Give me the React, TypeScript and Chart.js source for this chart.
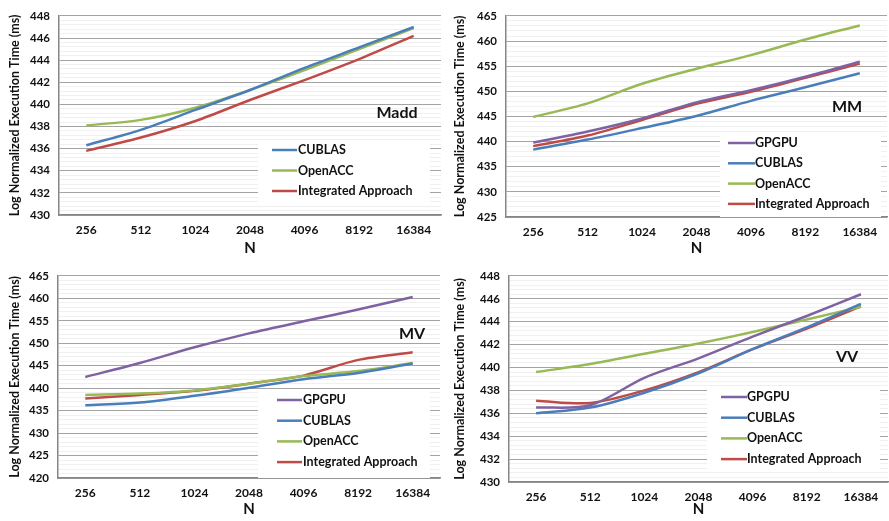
import React, { useEffect, useRef } from "react";
import { Chart, registerables } from "chart.js";
Chart.register(...registerables);

const categories = ["256", "512", "1024", "2048", "4096", "8192", "16384"];

const maddCublas = [436.3, 437.7, 439.5, 441.3, 443.3, 445.15, 447.0];
const maddOpenacc = [438.1, 438.6, 439.7, 441.3, 443.1, 445.0, 446.9];
const maddIntegrated = [435.8, 437.0, 438.5, 440.4, 442.2, 444.1, 446.2];

const mmGpgpu = [439.8, 442.0, 444.6, 447.8, 450.2, 452.9, 455.9];
const mmCublas = [438.4, 440.4, 442.7, 445.1, 448.1, 450.8, 453.6];
const mmOpenacc = [444.9, 447.6, 451.5, 454.5, 457.2, 460.3, 463.1];
const mmIntegrated = [439.1, 441.2, 444.3, 447.5, 449.9, 452.7, 455.5];

const mvGpgpu = [442.5, 445.6, 449.1, 452.2, 454.9, 457.5, 460.3];
const mvCublas = [436.2, 436.8, 438.3, 440.1, 442.0, 443.4, 445.5];
const mvOpenacc = [438.5, 438.8, 439.5, 441.0, 442.7, 443.8, 445.6];
const mvIntegrated = [437.7, 438.5, 439.4, 441.0, 442.8, 446.3, 448.0];

const vvGpgpu = [436.5, 436.7, 439.1, 440.8, 442.7, 444.5, 446.4];
const vvCublas = [436.0, 436.5, 437.8, 439.5, 441.6, 443.5, 445.55];
const vvOpenacc = [439.6, 440.3, 441.2, 442.1, 443.1, 444.2, 445.3];
const vvIntegrated = [437.1, 436.9, 438.0, 439.6, 441.6, 443.4, 445.35];

const COLORS: Record<string, string> = {
  GPGPU: "#7e62a1",
  CUBLAS: "#4a7ebb",
  OpenACC: "#98b954",
  "Integrated Approach": "#be4b48",
};

const FONT = "Lato, 'Open Sans', sans-serif";
const Y_TITLE = "Log Normalized Execution Time (ms)";

type PanelCfg = {
  name: string;
  x: number; y: number; w: number; h: number;
  cl: number; cr: number; ct: number; cb: number;
  min: number; max: number; major: number;
  series: { label: string; data: number[] }[];
  tx: number; ty: number;
  lg: { x: number; y: number; w: number; h: number; l1: number; l2: number; tx: number; r0: number; dr: number };
};

const panels: PanelCfg[] = [
  {
    name: "Madd", x: 0, y: 0, w: 445, h: 260, cl: 59, cr: 441, ct: 9, cb: 215,
    min: 430, max: 448, major: 2,
    series: [
      { label: "CUBLAS", data: maddCublas },
      { label: "OpenACC", data: maddOpenacc },
      { label: "Integrated Approach", data: maddIntegrated },
    ],
    tx: 397, ty: 113,
    lg: { x: 258, y: 141, w: 172, h: 63, l1: 272, l2: 297, tx: 298, r0: 150, dr: 20.5 },
  },
  {
    name: "MM", x: 445, y: 0, w: 444, h: 260, cl: 61, cr: 442, ct: 9, cb: 217,
    min: 425, max: 465, major: 5,
    series: [
      { label: "GPGPU", data: mmGpgpu },
      { label: "CUBLAS", data: mmCublas },
      { label: "OpenACC", data: mmOpenacc },
      { label: "Integrated Approach", data: mmIntegrated },
    ],
    tx: 402, ty: 107,
    lg: { x: 275, y: 132, w: 161, h: 85, l1: 283, l2: 310, tx: 310, r0: 143, dr: 20.3 },
  },
  {
    name: "MV", x: 0, y: 260, w: 445, h: 261, cl: 58, cr: 440, ct: 13, cb: 218,
    min: 420, max: 465, major: 5,
    series: [
      { label: "GPGPU", data: mvGpgpu },
      { label: "CUBLAS", data: mvCublas },
      { label: "OpenACC", data: mvOpenacc },
      { label: "Integrated Approach", data: mvIntegrated },
    ],
    tx: 412, ty: 74,
    lg: { x: 258, y: 130, w: 172, h: 88, l1: 277, l2: 302, tx: 303, r0: 140, dr: 20.7 },
  },
  {
    name: "VV", x: 445, y: 260, w: 444, h: 261, cl: 64, cr: 443, ct: 13, cb: 222,
    min: 430, max: 448, major: 2,
    series: [
      { label: "GPGPU", data: vvGpgpu },
      { label: "CUBLAS", data: vvCublas },
      { label: "OpenACC", data: vvOpenacc },
      { label: "Integrated Approach", data: vvIntegrated },
    ],
    tx: 402, ty: 97,
    lg: { x: 262, y: 127, w: 173, h: 83, l1: 276, l2: 302, tx: 302, r0: 137, dr: 20.7 },
  },
];

function Panel({ p }: { p: PanelCfg }) {
  const ref = useRef<HTMLCanvasElement | null>(null);
  useEffect(() => {
    if (!ref.current) return;
    const isMajor = (v: number) => {
      const r = (v - p.min) / p.major;
      return Math.abs(r - Math.round(r)) < 1e-3;
    };
    const overlay = {
      id: "overlay" + p.name,
      beforeDatasetsDraw(chart: any) {
        const ctx = chart.ctx as CanvasRenderingContext2D;
        ctx.save();
        ctx.fillStyle = "#ffffff";
        ctx.fillRect(p.lg.x, p.lg.y, p.lg.w, p.lg.h);
        ctx.lineWidth = 2.5;
        ctx.font = `bold 12.5px ${FONT}`;
        ctx.textBaseline = "middle";
        ctx.textAlign = "left";
        p.series.forEach((s, i) => {
          const yy = p.lg.r0 + i * p.lg.dr;
          ctx.strokeStyle = COLORS[s.label];
          ctx.beginPath();
          ctx.moveTo(p.lg.l1, yy);
          ctx.lineTo(p.lg.l2, yy);
          ctx.stroke();
          ctx.fillStyle = "#111111";
          ctx.fillText(s.label, p.lg.tx, yy);
        });
        ctx.font = `bold 16px ${FONT}`;
        ctx.textAlign = "center";
        ctx.fillStyle = "#111111";
        ctx.fillText(p.name, p.tx, p.ty);
        ctx.restore();
      },
    };
    const chart = new Chart(ref.current, {
      type: "line",
      data: {
        labels: categories,
        datasets: p.series.map((s) => ({
          label: s.label,
          data: s.data,
          borderColor: COLORS[s.label],
          backgroundColor: COLORS[s.label],
          borderWidth: 2.5,
          pointRadius: 0,
          tension: 0.3,
          fill: false,
        })),
      },
      options: {
        animation: false,
        responsive: false,
        events: [],
        layout: { padding: { left: 0, right: p.w - p.cr, top: p.ct, bottom: 0 } },
        plugins: { legend: { display: false }, tooltip: { enabled: false }, title: { display: false } },
        scales: {
          x: {
            type: "category",
            offset: true,
            grid: { display: false, drawTicks: false },
            border: { display: true, color: "#868686", width: 1.5 },
            ticks: { font: { family: FONT, size: 12, weight: "bold" }, color: "#111111", padding: 8, autoSkip: false, maxRotation: 0 },
            title: { display: true, text: "N", font: { family: FONT, size: 15, weight: "bold" }, color: "#111111", padding: { top: 0, bottom: 3 } },
            afterFit: (s: any) => { s.height = p.h - p.cb; },
          },
          y: {
            min: p.min,
            max: p.max,
            grid: {
              drawTicks: false,
              lineWidth: 1,
              color: (c: any) => (c.tick && isMajor(c.tick.value) ? "#a3a3a3" : "#f0f0f0"),
            },
            border: { display: true, color: "#868686", width: 1.5 },
            ticks: {
              stepSize: p.major / 5,
              autoSkip: false,
              maxTicksLimit: 1000,
              padding: 9,
              font: { family: FONT, size: 11.5, weight: "bold" },
              color: "#111111",
              callback: (v: any) => (isMajor(Number(v)) ? String(Math.round(Number(v))) : ""),
            },
            title: { display: true, text: Y_TITLE, font: { family: FONT, size: 12.5, weight: "bold" }, color: "#111111", padding: { top: 7, bottom: 0 } },
            afterFit: (s: any) => { s.width = p.cl; },
          },
        },
      } as any,
      plugins: [overlay],
    });
    return () => chart.destroy();
  }, []);
  return (
    <canvas
      ref={ref}
      width={p.w}
      height={p.h}
      style={{ position: "absolute", left: p.x, top: p.y, width: p.w, height: p.h }}
    />
  );
}

export default function App() {
  return (
    <div style={{ position: "absolute", left: 0, top: 0, width: 889, height: 521, background: "#ffffff" }}>
      {panels.map((p) => (
        <Panel key={p.name} p={p} />
      ))}
    </div>
  );
}
